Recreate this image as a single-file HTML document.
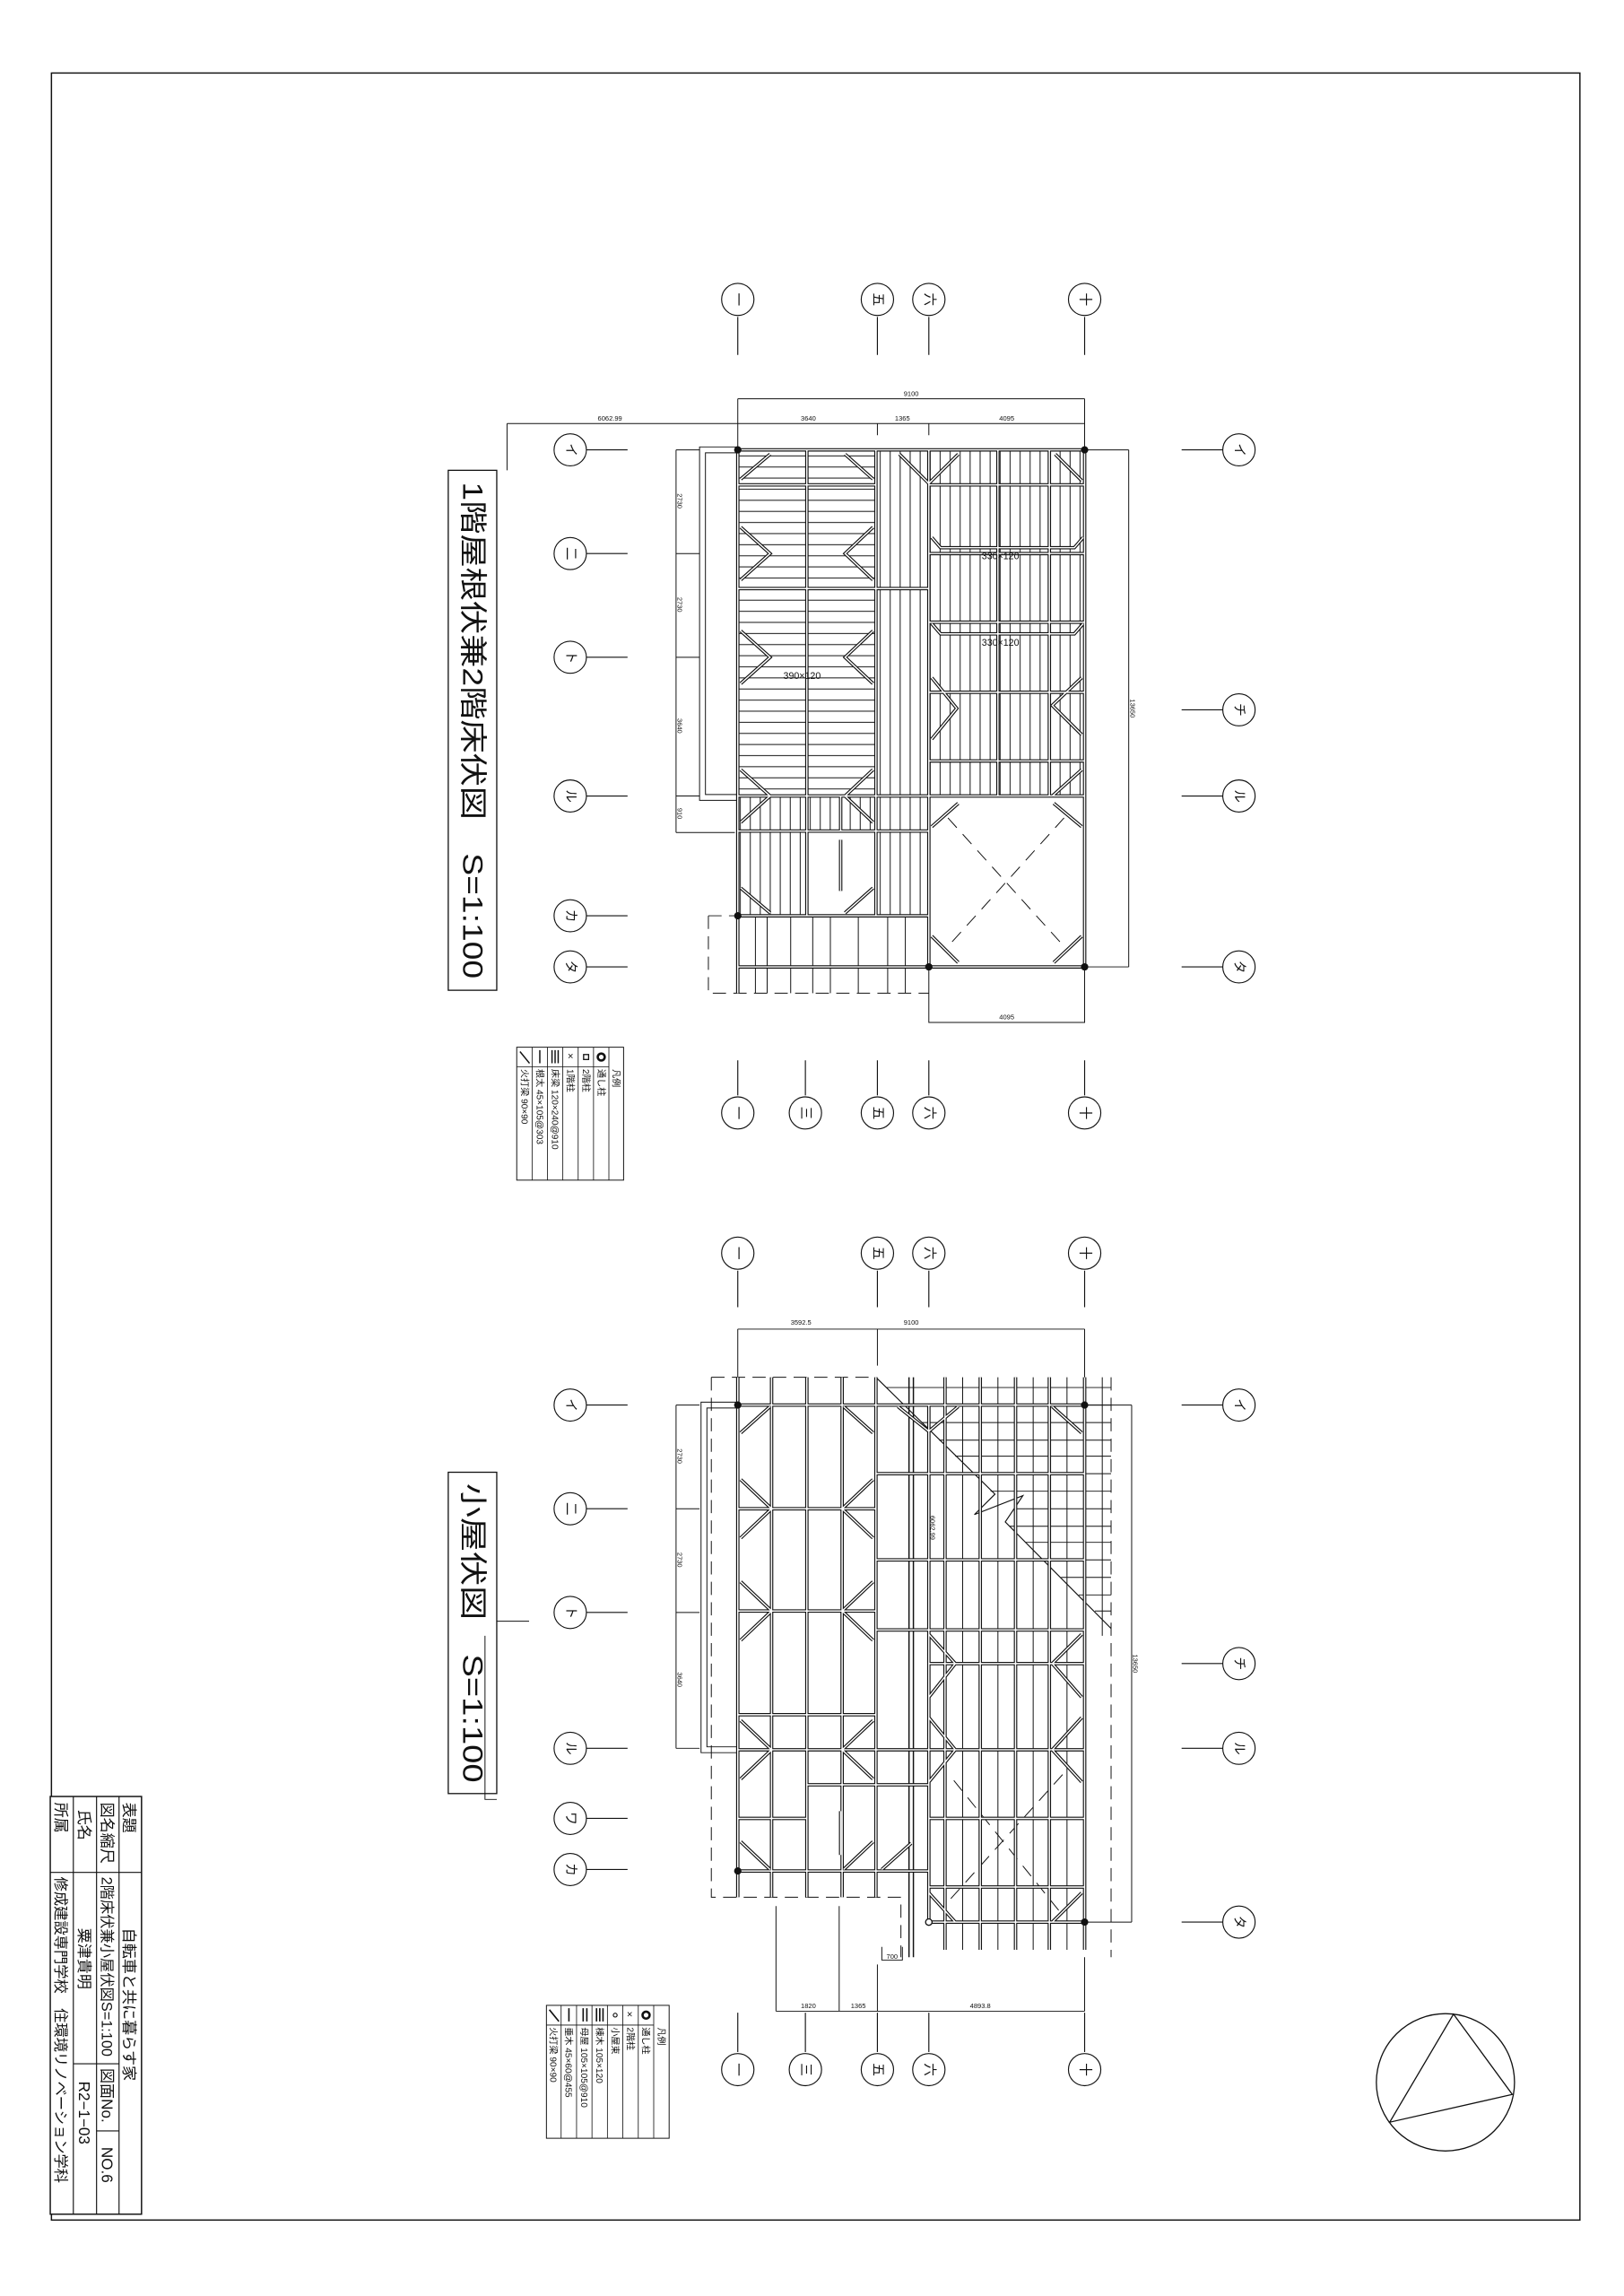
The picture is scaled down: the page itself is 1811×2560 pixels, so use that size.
<!DOCTYPE html>
<html><head><meta charset="utf-8"><style>
html,body{margin:0;padding:0;background:#fff}
svg{display:block}
text{font-family:"Liberation Sans","Noto Sans CJK JP",sans-serif;fill:#111}
</style></head><body>
<svg width="1811" height="2560" viewBox="0 0 1105 1572" preserveAspectRatio="none" xmlns="http://www.w3.org/2000/svg">
<defs>
<pattern id="hp" width="20" height="7.6" patternUnits="userSpaceOnUse"><line x1="0" y1="0.5" x2="20" y2="0.5" stroke="#111" stroke-width="0.6"/></pattern>
<pattern id="vp" width="6.8" height="20" patternUnits="userSpaceOnUse"><line x1="0.5" y1="0" x2="0.5" y2="20" stroke="#111" stroke-width="0.6"/></pattern>
<g id="tb">
<path d="M502 308H738 M502 403H632 M632 332H738 M632 379H738 M632 426H738 M632 474H738 M632 521H738 M502 545H738 M502 569H632 M502 627H632 M632 662H738 M502 662H632 M502 308V680 M549 308V627 M596 308V627 M632 308V662 M738 308V662 M679 308V545 M714 308V545 M572 545V569 M502 332H596
M504 328L524 311 M504 361L524 379L504 397 M504 432L524 450L504 468 M504 527L524 545L504 563 M504 608L524 625
M594 328L575 311 M594 361L575 379L594 397 M594 432L575 450L594 468 M594 527L575 545L594 563 M594 608L575 625
M612 311L632 331L652 311 M634 464L651 485L634 506 M718 311L736 329 M736 464L716 483L736 503 M736 527L716 545 M634 566L652 550 M717 550L736 566 M634 641L652 659 M717 659L736 641
M572 575V610 M634 368L640 375H731L737 368 M634 427L640 434H731L737 427"/>
</g>
<g id="bb">
<path d="M502 943V1299 M525 943V1299 M549 943V1299 M573 943V1299 M596 943V1299 M643 943V1335 M667 943V1335 M691 943V1335 M714 943V1335 M738 943V1335 M632 962V1316
M502 962H738 M502 1033H596 M502 1103H596 M502 1198H738 M549 1222H632 M502 1245H549 M502 1281H632 M596 1009H738 M596 1068H738 M596 1116H738 M632 1139H738 M632 1245H738 M632 1292H738 M632 1316H738 M502 1174H596
M504 981L524 963 M504 1013L525 1033L504 1053 M504 1083L525 1103L504 1123 M504 1178L525 1198L504 1218 M504 1261L524 1280
M594 981L574 963 M594 1013L573 1033L594 1053 M594 1083L573 1103L594 1123 M594 1178L573 1198L594 1218 M594 1261L574 1280
M611 963L632 980L652 963 M716 963L736 981 M632 1119L650 1139L632 1162 M632 1176L650 1198L632 1220 M736 1119L716 1139L736 1162 M736 1176L716 1198L736 1220 M632 1296L650 1316 M716 1316L736 1296 M600 1280L620 1262 M572 1240V1270"/>
</g>
</defs>
<rect x="0" y="0" width="1105" height="1572" fill="#fff"/>
<!-- border -->
<rect x="35" y="50" width="1040" height="1470" fill="none" stroke="#111" stroke-width="0.9"/>

<!-- ========== TOP PLAN ========== -->
<g stroke="#111" fill="none" stroke-width="0.6">
<rect x="502" y="308" width="94" height="237" fill="url(#hp)" stroke="none"/>
<rect x="596" y="308" width="142" height="237" fill="url(#vp)" stroke="none"/>
<rect x="502" y="545" width="47" height="82" fill="url(#vp)" stroke="none"/>
<rect x="596" y="545" width="36" height="82" fill="url(#vp)" stroke="none"/>
<rect x="549" y="545" width="47" height="24" fill="url(#vp)" stroke="none"/>
<path d="M514 627V680 M522 627V680 M538 627V680 M553 627V680 M565 627V680 M584 627V680 M604 627V680 M616 627V680"/>
<path d="M482 627H502 M482 627V680H632" stroke-dasharray="9 5"/>
<path d="M502 306H476V548H502 M502 310H480V544H502"/>
<path d="M645 560L724 648 M724 560L645 648" stroke-dasharray="9 6"/>
</g>
<use href="#tb" stroke="#111" stroke-width="2.3" fill="none"/>
<use href="#tb" stroke="#fff" stroke-width="0.9" fill="none"/>
<g fill="#111"><circle cx="502" cy="308" r="2.5"/><circle cx="738" cy="308" r="2.5"/><circle cx="502" cy="627" r="2.5"/><circle cx="632" cy="662" r="2.5"/><circle cx="738" cy="662" r="2.5"/></g>
<g font-size="6.5"><text x="668" y="383">330×120</text><text x="668" y="442">330×120</text><text x="533" y="465">390×120</text></g>
<!-- top plan dims -->
<g stroke="#111" fill="none" stroke-width="0.6">
<path d="M502 273H738 M502 273V308 M738 273V308 M345 290H738 M345 290V322 M597 290V298 M632 290V298"/>
<path d="M460 308V570 M460 308H476 M460 379H476 M460 450H476 M460 545H476 M460 570H500"/>
<path d="M768 308V662 M738 308H768 M738 662H768"/>
<path d="M632 662V700H738V662"/>
</g>
<g font-size="4.6" text-anchor="middle">
<text x="620" y="271">9100</text><text x="415" y="288">6062.99</text><text x="550" y="288">3640</text><text x="614" y="288">1365</text><text x="685" y="288">4095</text><text x="685" y="698">4095</text>
<text transform="translate(461,343) rotate(90)">2730</text><text transform="translate(461,414) rotate(90)">2730</text><text transform="translate(461,497) rotate(90)">3640</text><text transform="translate(461,557) rotate(90)">910</text>
<text transform="translate(769,485) rotate(90)">13650</text>
</g>
<!-- top title -->
<rect x="305" y="322" width="33" height="356" fill="#fff" stroke="#111" stroke-width="0.8"/>
<text transform="translate(321.5,500) rotate(90)" font-size="19" text-anchor="middle" dominant-baseline="central" textLength="340" lengthAdjust="spacingAndGlyphs">1階屋根伏兼2階床伏図　S=1:100</text>

<!-- grid bubbles: top plan -->
<g stroke="#111" fill="#fff" stroke-width="0.7">
<path d="M502 217V243 M597 217V243 M632 217V243 M738 217V243 M502 750V726 M548 750V726 M597 750V726 M632 750V726 M738 750V726
M399 308H427 M399 379H427 M399 450H427 M399 545H427 M399 627H427 M399 662H427 M804 308H832 M804 486H832 M804 545H832 M804 662H832" fill="none"/>
<circle cx="502" cy="205" r="11"/><circle cx="597" cy="205" r="11"/><circle cx="632" cy="205" r="11"/><circle cx="738" cy="205" r="11"/>
<circle cx="502" cy="762" r="11"/><circle cx="548" cy="762" r="11"/><circle cx="597" cy="762" r="11"/><circle cx="632" cy="762" r="11"/><circle cx="738" cy="762" r="11"/>
<circle cx="388" cy="308" r="11"/><circle cx="388" cy="379" r="11"/><circle cx="388" cy="450" r="11"/><circle cx="388" cy="545" r="11"/><circle cx="388" cy="627" r="11"/><circle cx="388" cy="662" r="11"/>
<circle cx="843" cy="308" r="11"/><circle cx="843" cy="486" r="11"/><circle cx="843" cy="545" r="11"/><circle cx="843" cy="662" r="11"/>
</g>
<g font-size="9" text-anchor="middle" dominant-baseline="central">
<text transform="translate(502,205) rotate(90)">一</text><text transform="translate(597,205) rotate(90)">五</text><text transform="translate(632,205) rotate(90)">六</text><text transform="translate(738,205) rotate(90)">十</text>
<text transform="translate(502,762) rotate(90)">一</text><text transform="translate(548,762) rotate(90)">三</text><text transform="translate(597,762) rotate(90)">五</text><text transform="translate(632,762) rotate(90)">六</text><text transform="translate(738,762) rotate(90)">十</text>
<text transform="translate(388,308) rotate(90)">イ</text><text transform="translate(388,379) rotate(90)">二</text><text transform="translate(388,450) rotate(90)">ト</text><text transform="translate(388,545) rotate(90)">ル</text><text transform="translate(388,627) rotate(90)">カ</text><text transform="translate(388,662) rotate(90)">タ</text>
<text transform="translate(843,308) rotate(90)">イ</text><text transform="translate(843,486) rotate(90)">チ</text><text transform="translate(843,545) rotate(90)">ル</text><text transform="translate(843,662) rotate(90)">タ</text>
</g>

<!-- legend 1 -->
<g transform="translate(424.3,717) rotate(90)">
<rect x="0" y="0" width="91" height="72.7" fill="#fff" stroke="#111" stroke-width="0.6"/>
<g stroke="#111" stroke-width="0.5"><path d="M0 10H91 M0 20.45H91 M0 30.9H91 M0 41.35H91 M0 51.8H91 M0 62.25H91 M13.5 10V72.7"/></g>
<g font-size="6.2"><text x="15" y="7.2">凡例</text><text x="15" y="17.4">通し柱</text><text x="15" y="27.8">2階柱</text><text x="15" y="38.3">1階柱</text><text x="15" y="48.7">床梁  120×240@910</text><text x="15" y="59.2">根太  45×105@303</text><text x="15" y="69.6">火打梁  90×90</text></g>
<circle cx="6.7" cy="15.2" r="2.4" fill="none" stroke="#111" stroke-width="1.6"/>
<rect x="5" y="23.8" width="3.4" height="3.4" fill="none" stroke="#111" stroke-width="0.8"/>
<text x="4" y="38.5" font-size="7">×</text>
<path d="M2 44.5H11 M2 46.6H11 M2 48.7H11 M2 57H11 M3 70.5L11 64" stroke="#111" stroke-width="0.9"/>
</g>

<!-- ========== BOTTOM PLAN ========== -->
<g stroke="#111" fill="none" stroke-width="0.6">
<path d="M603 950H756 M615 962H756 M627 974H756 M639 986H756 M650 997H756 M662 1009H756 M674 1021H756 M690 1033H756 M687 1045H756 M698 1056H756 M710 1068H756 M722 1080H756 M734 1092H756 M745 1103H756"/>
<path d="M596 943L677 1023L663 1037L696 1024L684 1042L756 1115" stroke-width="0.7"/>
<path d="M655 943V1335 M679 943V1335 M703 943V1335 M726 943V1335 M750 943V1120"/>
<path d="M484 943V1299H613V1340 M484 943H596 M756 943V1340" stroke-dasharray="9 5"/>
<path d="M502 960H477V1200H502 M502 964H481V1196H502"/>
<path d="M649 1219L722 1310 M723 1215L646 1301" stroke-dasharray="9 6"/>
<path d="M618.5 943V1340 M621.5 943V1340" stroke-width="0.9"/>
</g>
<use href="#bb" stroke="#111" stroke-width="2.3" fill="none"/>
<use href="#bb" stroke="#fff" stroke-width="0.9" fill="none"/>
<g fill="#111"><circle cx="502" cy="962" r="2.5"/><circle cx="738" cy="962" r="2.5"/><circle cx="502" cy="1281" r="2.5"/><circle cx="738" cy="1316" r="2.5"/></g>
<circle cx="632" cy="1316" r="2.2" fill="#fff" stroke="#111" stroke-width="0.8"/>
<!-- bottom plan dims -->
<g stroke="#111" fill="none" stroke-width="0.6">
<path d="M502 910H738 M502 910V943 M738 910V943 M597 910V935"/>
<path d="M460 962V1197 M460 962H476 M460 1033H476 M460 1104H476 M460 1197H476"/>
<path d="M770 962V1316 M738 962H770 M738 1316H770"/>
<path d="M528 1305V1377 M571 1305V1377 M597 1345V1377 M738 1340V1377 M528 1377H738 M600 1333V1342H614V1333"/>
</g>
<g font-size="4.6" text-anchor="middle">
<text x="545" y="907">3592.5</text><text x="620" y="907">9100</text>
<text transform="translate(461,997) rotate(90)">2730</text><text transform="translate(461,1068) rotate(90)">2730</text><text transform="translate(461,1150) rotate(90)">3640</text>
<text transform="translate(771,1139) rotate(90)">13650</text>
<text transform="translate(633,1046) rotate(90)">6062.99</text>
<text x="550" y="1375">1820</text><text x="584" y="1375">1365</text><text x="667" y="1375">4893.8</text><text x="607" y="1341">700</text>
</g>
<!-- bottom title -->
<rect x="305" y="1008" width="33" height="220" fill="#fff" stroke="#111" stroke-width="0.8"/>
<path d="M338 1110H360 M330 1120V1232H338" stroke="#111" stroke-width="0.6" fill="none"/>
<text transform="translate(321.5,1118) rotate(90)" font-size="19" text-anchor="middle" dominant-baseline="central" textLength="205" lengthAdjust="spacingAndGlyphs">小屋伏図　S=1:100</text>

<!-- grid bubbles bottom plan -->
<g stroke="#111" fill="#fff" stroke-width="0.7">
<path d="M502 870V895 M597 870V895 M632 870V895 M738 870V895 M502 1405V1378 M548 1405V1378 M597 1405V1378 M632 1405V1378 M738 1405V1378
M399 962H427 M399 1033H427 M399 1104H427 M399 1197H427 M399 1245H427 M399 1280H427 M804 962H832 M804 1139H832 M804 1197H832 M804 1316H832" fill="none"/>
<circle cx="502" cy="858" r="11"/><circle cx="597" cy="858" r="11"/><circle cx="632" cy="858" r="11"/><circle cx="738" cy="858" r="11"/>
<circle cx="502" cy="1417" r="11"/><circle cx="548" cy="1417" r="11"/><circle cx="597" cy="1417" r="11"/><circle cx="632" cy="1417" r="11"/><circle cx="738" cy="1417" r="11"/>
<circle cx="388" cy="962" r="11"/><circle cx="388" cy="1033" r="11"/><circle cx="388" cy="1104" r="11"/><circle cx="388" cy="1197" r="11"/><circle cx="388" cy="1245" r="11"/><circle cx="388" cy="1280" r="11"/>
<circle cx="843" cy="962" r="11"/><circle cx="843" cy="1139" r="11"/><circle cx="843" cy="1197" r="11"/><circle cx="843" cy="1316" r="11"/>
</g>
<g font-size="9" text-anchor="middle" dominant-baseline="central">
<text transform="translate(502,858) rotate(90)">一</text><text transform="translate(597,858) rotate(90)">五</text><text transform="translate(632,858) rotate(90)">六</text><text transform="translate(738,858) rotate(90)">十</text>
<text transform="translate(502,1417) rotate(90)">一</text><text transform="translate(548,1417) rotate(90)">三</text><text transform="translate(597,1417) rotate(90)">五</text><text transform="translate(632,1417) rotate(90)">六</text><text transform="translate(738,1417) rotate(90)">十</text>
<text transform="translate(388,962) rotate(90)">イ</text><text transform="translate(388,1033) rotate(90)">二</text><text transform="translate(388,1104) rotate(90)">ト</text><text transform="translate(388,1197) rotate(90)">ル</text><text transform="translate(388,1245) rotate(90)">ワ</text><text transform="translate(388,1280) rotate(90)">カ</text>
<text transform="translate(843,962) rotate(90)">イ</text><text transform="translate(843,1139) rotate(90)">チ</text><text transform="translate(843,1197) rotate(90)">ル</text><text transform="translate(843,1316) rotate(90)">タ</text>
</g>

<!-- legend 2 -->
<g transform="translate(455.3,1373) rotate(90)">
<rect x="0" y="0" width="91" height="83.5" fill="#fff" stroke="#111" stroke-width="0.6"/>
<g stroke="#111" stroke-width="0.5"><path d="M0 10.5H91 M0 21H91 M0 31.5H91 M0 42H91 M0 52.5H91 M0 63H91 M0 73.5H91 M13.5 10.5V83.5"/></g>
<g font-size="6.2"><text x="15" y="7.5">凡例</text><text x="15" y="18">通し柱</text><text x="15" y="28.5">2階柱</text><text x="15" y="39">小屋束</text><text x="15" y="49.5">棟木  105×120</text><text x="15" y="60">母屋  105×105@910</text><text x="15" y="70.5">垂木  45×60@455</text><text x="15" y="81">火打梁  90×90</text></g>
<circle cx="6.7" cy="15.7" r="2.4" fill="none" stroke="#111" stroke-width="1.6"/>
<text x="4" y="29" font-size="7">×</text>
<circle cx="6.7" cy="36.7" r="1.3" fill="none" stroke="#111" stroke-width="0.7"/>
<path d="M2 45H11 M2 47.2H11 M2 49.4H11 M2 56H11 M2 58.5H11 M2 68.2H11 M3 81.5L11 75" stroke="#111" stroke-width="1"/>
</g>

<!-- logo -->
<circle cx="983.5" cy="1425.7" r="47" fill="none" stroke="#111" stroke-width="0.8"/>
<path d="M989 1379L1029 1434L945.6 1453Z" fill="none" stroke="#111" stroke-width="0.8"/>

<!-- title block -->
<g transform="translate(96.3,1230) rotate(90)">
<rect x="0" y="0" width="286" height="62.1" fill="#fff" stroke="#111" stroke-width="0.9"/>
<g stroke="#111" stroke-width="0.7"><path d="M0 15.3H286 M0 30.6H286 M0 46.4H286 M52 0V62.1 M183 15.3V46.4 M229 15.3V30.6"/></g>
<g font-size="10.5">
<text x="4" y="12">表題</text>
<text x="4" y="27">図名縮尺</text>
<text x="9" y="42.5">氏名</text>
<text x="4" y="58.5">所属</text>
<text x="90" y="12">自転車と共に暮らす家</text>
<text x="55" y="27" font-size="10">2階床伏兼小屋伏図S=1:100</text>
<text x="186" y="27">図面No.</text>
<text x="240" y="27">NO.6</text>
<text x="90" y="42.5">粟津貴明</text>
<text x="195" y="42.5">R2−1−03</text>
<text x="55" y="58.5" font-size="10">修成建設専門学校　住環境リノベーション学科</text>
</g>
</g>
</svg>
</body></html>
